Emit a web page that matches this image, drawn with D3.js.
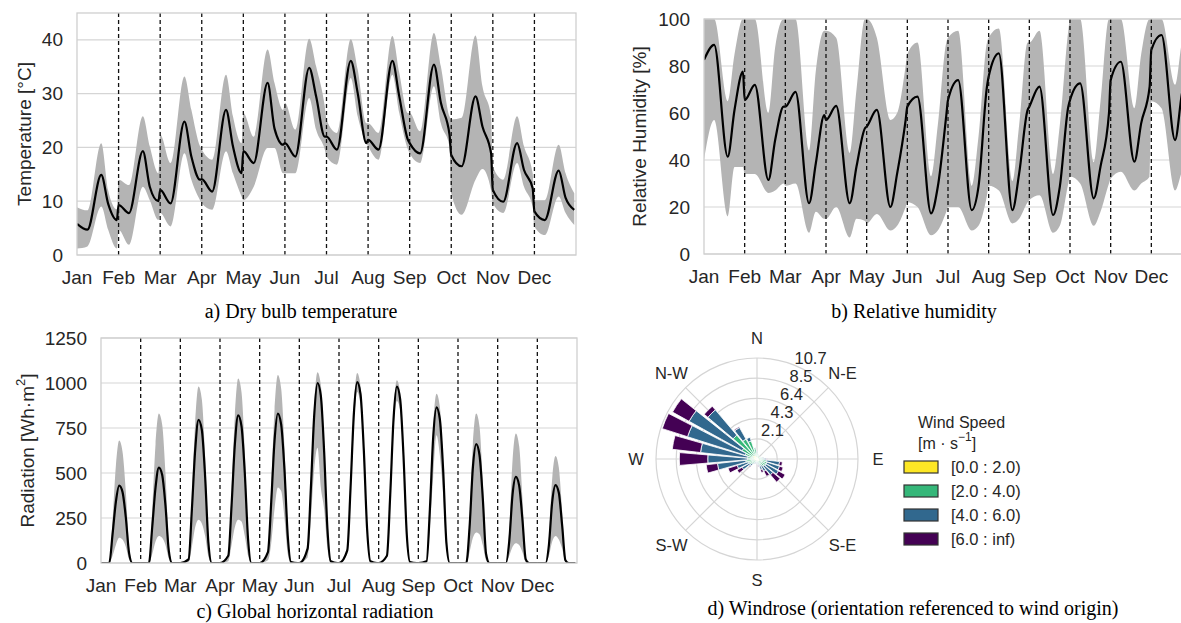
<!DOCTYPE html>
<html>
<head>
<meta charset="utf-8">
<script src="https://cdn.jsdelivr.net/npm/d3@7"></script>
<style>
    html, body { margin: 0; padding: 0; background: #fff; }
    svg { display: block; }
    text { font-family: "Liberation Sans", Arial, sans-serif; }
</style>
</head>
<body>
<svg id="svg" width="1181" height="623"></svg>
<script>
// ---- data ----
const months = ["Jan", "Feb", "Mar", "Apr", "May", "Jun", "Jul", "Aug", "Sep", "Oct", "Nov", "Dec"];

// hour of day for each value in the monthly profiles below
const profileHours = [0, 6, 14, 18, 23];
const radHours = [0, 5, 7, 9, 11, 13, 15, 17, 19, 23];

// dry bulb temperature [°C], one row per month
const tempMean = [
    [5.8, 4.7, 14.9, 9.5, 6.5], [9.3, 7.8, 19.3, 12.7, 10.0], [12.1, 9.6, 24.8, 18.3, 14.0],
    [14.1, 11.8, 27.0, 20.2, 15.2], [19.3, 17.1, 32.0, 23.5, 20.5], [20.8, 18.3, 34.8, 29.5, 22.0],
    [22.0, 19.6, 36.1, 30.1, 20.8], [21.4, 19.6, 36.1, 29.5, 21.4], [20.8, 18.9, 35.4, 28.3, 22.4],
    [18.6, 16.5, 29.5, 23.9, 18.9], [12.1, 9.9, 20.8, 15.8, 12.4], [8.1, 6.5, 15.7, 10.6, 8.4]
];
const tempHigh = [
    [8.9, 8.3, 20.8, 12.0, 8.5], [14.0, 13.0, 25.8, 20.2, 15.2], [22.4, 17.1, 33.2, 27.0, 20.2],
    [19.6, 17.7, 33.5, 25.8, 20.8], [26.4, 22.0, 38.2, 32.0, 27.0], [28.3, 23.3, 40.2, 35.1, 27.6],
    [25.2, 22.7, 40.1, 34.5, 24.5], [24.5, 22.7, 40.7, 33.9, 26.4], [26.4, 23.0, 41.3, 35.1, 25.8],
    [25.2, 25.5, 40.8, 31.4, 25.8], [16.5, 14.0, 25.8, 20.2, 15.2], [10.2, 10.2, 20.5, 15.2, 11.5]
];
const tempLow = [
    [1.2, 1.6, 9.0, 4.7, 1.2], [4.7, 1.9, 12.7, 10.2, 6.5], [7.8, 5.3, 18.9, 14.0, 10.2],
    [9.6, 8.4, 19.3, 15.2, 10.9], [10.2, 12.7, 19.9, 19.9, 15.2], [15.2, 15.2, 29.2, 23.3, 19.6],
    [18.3, 16.8, 32.9, 25.8, 20.8], [20.2, 17.7, 33.5, 26.4, 19.6], [18.9, 17.1, 31.4, 24.5, 20.2],
    [11.5, 7.5, 14.0, 16.0, 12.0], [9.6, 7.8, 17.1, 12.7, 9.0], [5.3, 3.7, 10.9, 7.8, 5.6]
];

// relative humidity [%]
const rhMean = [
    [82.6, 89.0, 41.4, 61.3, 77.6], [65.5, 72.0, 31.5, 48.5, 62.7], [62.7, 69.0, 21.6, 38.6, 59.1],
    [57.0, 63.0, 21.6, 37.2, 53.5], [54.2, 61.3, 20.0, 34.3, 57.0], [62.7, 67.0, 17.3, 28.7, 59.0],
    [65.5, 74.0, 18.7, 28.7, 71.2], [75.5, 85.4, 18.7, 34.3, 61.3], [62.7, 71.2, 16.6, 28.7, 62.7],
    [65.5, 72.6, 23.7, 37.2, 59.9], [74.0, 81.8, 39.3, 55.6, 71.2], [86.8, 93.2, 48.5, 68.0, 82.0]
];
const rhHigh = [
    [100, 100, 65, 85, 100], [100, 100, 60, 88, 100], [100, 100, 44, 78, 95],
    [95, 92, 43, 70, 100], [100, 92, 57, 60, 80], [85, 90, 33, 55, 90],
    [92, 95, 29, 50, 90], [92, 96, 31, 55, 90], [90, 95, 34, 55, 95],
    [100, 100, 39, 65, 100], [100, 100, 62, 85, 100], [100, 100, 72, 90, 100]
];
const rhLow = [
    [40, 57, 16, 37, 37], [34, 34, 26, 27, 30], [29, 30, 9, 18, 15],
    [15, 20, 7, 15, 14], [13, 17, 10, 12, 20], [22, 20, 8, 10, 18],
    [20, 20, 10, 12, 25], [29, 27, 13, 15, 22], [23, 25, 9, 12, 30],
    [33, 30, 12, 18, 30], [32, 35, 27, 30, 33], [65, 62, 27, 35, 45]
];

// global horizontal radiation [Wh/m2]
const radMean = [
    [0, 0, 160, 340, 430, 395, 255, 55, 0, 0], [0, 0, 200, 420, 530, 490, 320, 70, 0, 0],
    [0, 20, 300, 630, 795, 740, 480, 110, 0, 0], [0, 40, 320, 660, 820, 760, 500, 130, 0, 0],
    [0, 60, 340, 680, 830, 770, 520, 150, 5, 0], [0, 80, 420, 820, 1000, 930, 620, 190, 10, 0],
    [0, 70, 420, 830, 1005, 940, 630, 190, 10, 0], [0, 40, 380, 800, 980, 910, 600, 160, 5, 0],
    [0, 10, 300, 700, 865, 800, 520, 110, 0, 0], [0, 0, 200, 530, 660, 600, 360, 50, 0, 0],
    [0, 0, 120, 380, 478, 430, 240, 20, 0, 0], [0, 0, 100, 340, 433, 390, 210, 15, 0, 0]
];
const radHigh = [
    [0, 0, 240, 540, 680, 620, 400, 90, 0, 0], [0, 0, 300, 660, 830, 770, 500, 110, 0, 0],
    [0, 30, 370, 780, 980, 910, 590, 140, 0, 0], [0, 50, 400, 820, 1025, 950, 620, 160, 0, 0],
    [0, 75, 420, 850, 1045, 970, 650, 190, 5, 0], [0, 90, 450, 880, 1060, 990, 660, 200, 10, 0],
    [0, 80, 440, 870, 1055, 985, 660, 200, 10, 0], [0, 45, 400, 830, 1015, 945, 620, 170, 5, 0],
    [0, 15, 330, 760, 940, 870, 560, 120, 0, 0], [0, 0, 250, 660, 830, 760, 450, 60, 0, 0],
    [0, 0, 180, 570, 720, 650, 360, 30, 0, 0], [0, 0, 140, 470, 594, 530, 290, 20, 0, 0]
];
const radLow = [
    [0, 0, 40, 100, 140, 130, 90, 20, 0, 0], [0, 0, 50, 120, 150, 140, 100, 25, 0, 0],
    [0, 5, 90, 200, 240, 220, 150, 35, 0, 0], [0, 10, 100, 200, 240, 230, 150, 40, 0, 0],
    [0, 15, 110, 300, 420, 400, 250, 50, 0, 0], [0, 30, 250, 520, 640, 420, 300, 80, 0, 0],
    [0, 50, 380, 760, 950, 880, 590, 170, 5, 0], [0, 30, 340, 740, 900, 850, 560, 140, 0, 0],
    [0, 5, 200, 480, 710, 600, 380, 80, 0, 0], [0, 0, 60, 140, 170, 160, 100, 15, 0, 0],
    [0, 0, 40, 90, 110, 100, 60, 5, 0, 0], [0, 0, 40, 120, 150, 130, 80, 5, 0, 0]
];

// windrose: 32 sectors clockwise from N, frequency [%] per speed bin
const windLabels = ["[0.0 : 2.0)", "[2.0 : 4.0)", "[4.0 : 6.0)", "[6.0 : inf)"];
const windColors = ["#fde725", "#35b779", "#31688e", "#440154"];
const wind0to2 = [0.3, 0.3, 0.2, 0.2, 0.2, 0.2, 0.2, 0.3, 0.3, 0.3, 0.3, 0.3, 0.3, 0.3, 0.3, 0.2,
                  0.2, 0.2, 0.2, 0.2, 0.3, 0.3, 0.3, 0.4, 0.4, 0.4, 0.4, 0.5, 0.5, 0.4, 0.4, 0.3];
const wind2to4 = [0.4, 0.2, 0.2, 0.1, 0.1, 0.1, 0.2, 0.3, 0.4, 0.7, 0.8, 0.8, 0.7, 0.5, 0.4, 0.3,
                  0.2, 0.2, 0.2, 0.3, 0.4, 0.6, 0.7, 0.8, 0.6, 0.6, 0.9, 1.3, 2.8, 2.0, 1.6, 0.8];
const wind4to6 = [0.1, 0, 0, 0, 0, 0, 0, 0.1, 0.3, 1.4, 1.4, 1.5, 1.2, 0.7, 0.5, 0.2,
                  0.1, 0, 0.1, 0.1, 0.3, 0.9, 1.2, 3.0, 4.2, 5.0, 6.4, 6.4, 3.5, 1.4, 0.4, 0.1];
const wind6up = [0, 0, 0, 0, 0, 0, 0, 0, 0.1, 0.3, 0.4, 0.8, 1.0, 0.6, 0.3, 0.1,
                 0, 0, 0, 0, 0.1, 0.6, 1.0, 1.2, 3.0, 3.0, 2.8, 2.0, 0.5, 0.1, 0, 0];
const ringValues = [2.132, 4.264, 6.396, 8.528, 10.66];
const compass = ["N", "N-E", "E", "S-E", "S", "S-W", "W", "N-W"];

// ---- drawing ----
const svg = d3.select("#svg");
const tickColor = "#262626";

function toPoints(rows, hours) {
    return rows.flatMap((vals, m) => vals.map((v, j) => [m * 24 + hours[j], v]));
}

function drawProfile(o) {
    const x = d3.scaleLinear().domain([0, 288]).range([o.left, o.right]);
    const y = d3.scaleLinear().domain(o.yDomain).range([o.bottom, o.top]);
    const g = svg.append("g");

    g.append("clipPath").attr("id", o.id)
        .append("rect")
        .attr("x", o.left).attr("y", o.top)
        .attr("width", o.right - o.left).attr("height", o.bottom - o.top);

    g.selectAll("line.grid").data(o.yTicks).join("line")
        .attr("class", "grid")
        .attr("x1", o.left).attr("x2", o.right)
        .attr("y1", d => y(d)).attr("y2", d => y(d))
        .attr("stroke", "#d5d5d5").attr("stroke-width", 1.2);

    const meanPts = toPoints(o.mean, o.hours);
    const lowPts = toPoints(o.low, o.hours);
    const highPts = toPoints(o.high, o.hours);

    const band = d3.area()
        .x(d => x(d[0]))
        .y0((d, i) => y(lowPts[i][1]))
        .y1(d => y(d[1]))
        .curve(d3.curveMonotoneX);

    const line = d3.line()
        .x(d => x(d[0]))
        .y(d => y(d[1]))
        .curve(d3.curveMonotoneX);

    const plot = g.append("g").attr("clip-path", `url(#${o.id})`);
    plot.append("path").datum(highPts)
        .attr("d", band)
        .attr("fill", "#b4b4b4");
    plot.append("path").datum(meanPts)
        .attr("d", line)
        .attr("fill", "none")
        .attr("stroke", "#000")
        .attr("stroke-width", 2.2);

    g.selectAll("line.month").data(d3.range(1, 12)).join("line")
        .attr("class", "month")
        .attr("x1", d => x(d * 24)).attr("x2", d => x(d * 24))
        .attr("y1", o.top).attr("y2", o.bottom)
        .attr("stroke", "#111").attr("stroke-width", 1.3)
        .attr("stroke-dasharray", "4,3");

    g.append("rect")
        .attr("x", o.left).attr("y", o.top)
        .attr("width", o.right - o.left).attr("height", o.bottom - o.top)
        .attr("fill", "none").attr("stroke", "#cfcfcf").attr("stroke-width", 1.3);

    g.selectAll("text.ytick").data(o.yTicks).join("text")
        .attr("class", "ytick")
        .attr("x", o.left - 14).attr("y", d => y(d))
        .attr("text-anchor", "end").attr("dominant-baseline", "central")
        .attr("font-size", 19).attr("fill", tickColor)
        .text(d => d);

    g.selectAll("text.xtick").data(months).join("text")
        .attr("class", "xtick")
        .attr("x", (d, i) => x(i * 24)).attr("y", o.bottom + 22)
        .attr("text-anchor", "middle").attr("dominant-baseline", "central")
        .attr("font-size", 19).attr("fill", tickColor)
        .text(d => d);

    const lab = g.append("text")
        .attr("transform", `translate(${o.labelX}, ${(o.top + o.bottom) / 2}) rotate(-90)`)
        .attr("text-anchor", "middle").attr("dominant-baseline", "central")
        .attr("font-size", 19).attr("fill", tickColor);
    o.label.forEach(part => {
        lab.append("tspan").attr("dy", part.dy || 0)
            .attr("font-size", part.size || null)
            .text(part.t);
    });
}

drawProfile({
    id: "clipA", left: 77, right: 576, top: 13, bottom: 255,
    yDomain: [0, 45], yTicks: [0, 10, 20, 30, 40],
    hours: profileHours, mean: tempMean, low: tempLow, high: tempHigh,
    labelX: 24, label: [{ t: "Temperature [°C]" }]
});

drawProfile({
    id: "clipB", left: 704, right: 1192, top: 19, bottom: 254,
    yDomain: [0, 100], yTicks: [0, 20, 40, 60, 80, 100],
    hours: profileHours, mean: rhMean, low: rhLow, high: rhHigh,
    labelX: 639, label: [{ t: "Relative Humidity [%]" }]
});

drawProfile({
    id: "clipC", left: 101, right: 577, top: 338, bottom: 563,
    yDomain: [0, 1250], yTicks: [0, 250, 500, 750, 1000, 1250],
    hours: radHours, mean: radMean, low: radLow, high: radHigh,
    labelX: 27, label: [{ t: "Radiation [Wh·m" }, { t: "2", dy: -7, size: 13 }, { t: "]", dy: 7 }]
});

// ---- windrose ----
const cx = 757, cy = 459;
const r = d3.scaleLinear().domain([0, 10.66]).range([0, 101]);
const rose = svg.append("g").attr("transform", `translate(${cx}, ${cy})`);

rose.selectAll("circle.ring").data(ringValues).join("circle")
    .attr("class", "ring")
    .attr("r", d => r(d))
    .attr("fill", "none").attr("stroke", "#d5d5d5").attr("stroke-width", 1.2);

rose.selectAll("line.spoke").data(d3.range(8)).join("line")
    .attr("class", "spoke")
    .attr("x1", 0).attr("y1", 0)
    .attr("x2", d => r(10.66) * Math.sin(d * Math.PI / 4))
    .attr("y2", d => -r(10.66) * Math.cos(d * Math.PI / 4))
    .attr("stroke", "#d5d5d5").attr("stroke-width", 1.2);

const windRows = wind0to2.map((v, i) => ({
    dir: i, b0: v, b1: wind2to4[i], b2: wind4to6[i], b3: wind6up[i]
}));
const stacked = d3.stack().keys(["b0", "b1", "b2", "b3"])(windRows);
const sector = 2 * Math.PI / wind0to2.length;
const opening = 0.84;
const windArc = d3.arc()
    .innerRadius(d => r(d[0]))
    .outerRadius(d => r(d[1]))
    .startAngle(d => d.data.dir * sector - sector * opening / 2)
    .endAngle(d => d.data.dir * sector + sector * opening / 2);

rose.selectAll("g.layer").data(stacked).join("g")
    .attr("class", "layer")
    .attr("fill", (d, i) => windColors[i])
    .selectAll("path")
    .data(d => d.filter(s => s[1] - s[0] > 0))
    .join("path")
    .attr("d", windArc)
    .attr("stroke", "#fff").attr("stroke-width", 0.8);

rose.selectAll("text.dir").data(compass).join("text")
    .attr("class", "dir")
    .attr("x", (d, i) => 121 * Math.sin(i * Math.PI / 4))
    .attr("y", (d, i) => -121 * Math.cos(i * Math.PI / 4))
    .attr("text-anchor", "middle").attr("dominant-baseline", "central")
    .attr("font-size", 16.5).attr("fill", tickColor)
    .text(d => d);

const ringAngle = 28 * Math.PI / 180;
rose.selectAll("text.ringlab").data(ringValues).join("text")
    .attr("class", "ringlab")
    .attr("x", d => (r(d) + 13) * Math.sin(ringAngle))
    .attr("y", d => -(r(d) + 13) * Math.cos(ringAngle))
    .attr("text-anchor", "middle").attr("dominant-baseline", "central")
    .attr("font-size", 16.5).attr("fill", tickColor)
    .text(d => d3.format(".1f")(d));

// legend
const legend = svg.append("g").attr("transform", "translate(904, 0)");
legend.append("text")
    .attr("x", 14).attr("y", 422)
    .attr("dominant-baseline", "central")
    .attr("font-size", 16).attr("fill", tickColor)
    .text("Wind Speed");
const unit = legend.append("text")
    .attr("x", 14).attr("y", 443)
    .attr("dominant-baseline", "central")
    .attr("font-size", 16).attr("fill", tickColor);
unit.append("tspan").text("[m · s");
unit.append("tspan").attr("dy", -6).attr("font-size", 12).text("−1");
unit.append("tspan").attr("dy", 6).text("]");

const items = legend.selectAll("g.item").data(windLabels).join("g")
    .attr("class", "item")
    .attr("transform", (d, i) => `translate(0, ${467 + i * 24})`);
items.append("rect")
    .attr("x", 0).attr("y", -6)
    .attr("width", 34).attr("height", 12)
    .attr("fill", (d, i) => windColors[i])
    .attr("stroke", "#333").attr("stroke-width", 1.2);
items.append("text")
    .attr("x", 47).attr("y", 0)
    .attr("dominant-baseline", "central")
    .attr("font-size", 16.5).attr("fill", tickColor)
    .text(d => d);

// captions
const captions = [
    { t: "a) Dry bulb temperature", x: 301, y: 318 },
    { t: "b) Relative humidity", x: 914, y: 318 },
    { t: "c) Global horizontal radiation", x: 315, y: 618 },
    { t: "d) Windrose (orientation referenced to wind origin)", x: 913, y: 615 }
];
svg.selectAll("text.caption").data(captions).join("text")
    .attr("class", "caption")
    .attr("x", d => d.x).attr("y", d => d.y)
    .attr("text-anchor", "middle")
    .style("font-family", "'Liberation Serif', 'Times New Roman', serif")
    .attr("font-size", 20).attr("fill", "#000")
    .text(d => d.t);
</script>
</body>
</html>
